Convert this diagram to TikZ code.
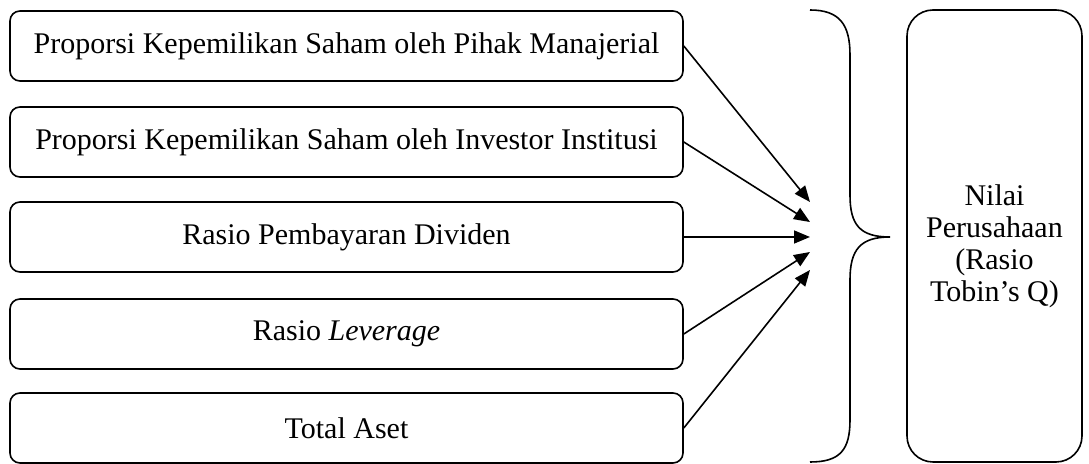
\documentclass[tikz,border=0pt]{standalone}
\usepackage{fontspec}
\setmainfont{Liberation Serif}
\usetikzlibrary{arrows.meta}

\tikzset{
  varbox/.style={draw, line width=0.8pt, rounded corners=5pt,
    minimum width=336.5pt, minimum height=35pt, inner sep=0pt,
    font=\fontsize{15}{18}\selectfont},
  resultbox/.style={draw, line width=0.8pt, rounded corners=13pt,
    minimum width=87.5pt, minimum height=226pt, inner sep=0pt},
  resulttext/.style={align=center, inner sep=0pt, font=\fontsize{15}{16}\selectfont},
  link/.style={->, line width=0.8pt}
}

\begin{document}
\begin{tikzpicture}[x=0.5pt, y=-0.5pt, >={Triangle[length=8pt,width=6.5pt]}]
  \useasboundingbox (0,0) rectangle (1089,464);
  \node[varbox] (manajerial) at (346.5,46) {Proporsi Kepemilikan Saham oleh Pihak Manajerial};
  \node[varbox] (institusi) at (346.5,142) {Proporsi Kepemilikan Saham oleh Investor Institusi};
  \node[varbox] (dividen) at (346.5,237) {Rasio Pembayaran Dividen};
  \node[varbox] (leverage) at (346.5,334) {Rasio \textit{Leverage}};
  \node[varbox] (aset) at (346.5,428) {Total Aset};
  \node[resultbox, label={[resulttext, yshift=-5pt]center:{Nilai\\Perusahaan\\(Rasio\\Tobin’s Q)}}] (nilai) at (994.5,236) {};

  % titik temu panah
  \coordinate (t1) at (810,202);
  \coordinate (t2) at (810,222);
  \coordinate (t3) at (810,237);
  \coordinate (t4) at (810,252);
  \coordinate (t5) at (810,270);

  \draw[link] (manajerial.east) -- (t1);
  \draw[link] (institusi.east) -- (t2);
  \draw[link] (dividen.east) -- (t3);
  \draw[link] (leverage.east) -- (t4);
  \draw[link] (aset.east) -- (t5);

  % kurung kurawal
  \draw[line width=0.8pt] (810,10) .. controls (840,10) and (850,25) .. (850,55)
    -- (850,195) .. controls (850,225) and (860,237) .. (890,237)
    .. controls (860,237) and (850,250) .. (850,280)
    -- (850,420) .. controls (850,450) and (840,462) .. (810,462);
\end{tikzpicture}
\end{document}
